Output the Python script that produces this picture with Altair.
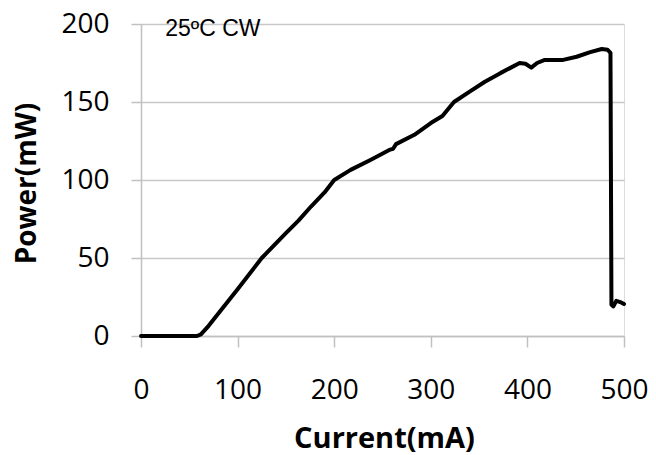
import altair as alt
import pandas as pd

current_mA = [0, 58, 62, 70, 100, 125, 150, 163, 176, 190, 200, 217, 238, 258, 261, 264,
              283, 300, 312, 324, 341, 356, 372, 392, 398, 404, 410, 418, 437, 451, 465,
              477, 483, 486, 487, 489, 492, 497, 500]
power_mW = [0, 0, 1, 6.5, 30, 50, 66, 74, 83, 92, 100, 106.5, 113, 119.5, 120, 123,
            129, 136.5, 141, 150, 157, 163, 168.5, 175, 174.5, 172, 175, 177, 177, 179, 182,
            184, 183.5, 181.5, 20, 19, 22.5, 21.5, 20.5]

x_ticks = [0, 100, 200, 300, 400, 500]
y_ticks = [0, 50, 100, 150, 200]

note_text = ["25\u00baC CW"]
note_x = [25]
note_y = [192]

df = pd.DataFrame({"current": current_mA, "power": power_mW, "i": list(range(len(current_mA)))})
notes = pd.DataFrame({"x": note_x, "y": note_y, "t": note_text})

x_scale = alt.Scale(domain=[0, 500], nice=False, zero=False)
y_scale = alt.Scale(domain=[0, 200], nice=False)

line = alt.Chart(df).mark_line(color="black", strokeWidth=4, strokeJoin="round", strokeCap="round").encode(
    x=alt.X("current:Q", scale=x_scale, axis=alt.Axis(
        values=x_ticks, title="Current(mA)", grid=False,
        domainColor="#c0c0c0", domainWidth=1.5, tickColor="#c0c0c0", tickWidth=1.5, tickSize=11,
        labelFont="Open Sans", labelFontSize=28, labelColor="black", labelBaseline="alphabetic",
        labelPadding=51, labelFlush=False, labelOverlap=False, labelBound=False,
        titleFont="Open Sans", titleFontSize=29, titleFontWeight="bold", titleColor="black",
        titleBaseline="alphabetic", titleX=243, titleY=111, titleAlign="center")),
    y=alt.Y("power:Q", scale=y_scale, axis=alt.Axis(
        values=y_ticks, title="Power(mW)", grid=True, gridColor="#c8c8c8", gridWidth=1.5,
        domainColor="#c0c0c0", domainWidth=1.5, tickColor="#c0c0c0", tickWidth=1.5, tickSize=10,
        labelFont="Open Sans", labelFontSize=28, labelColor="black", labelPadding=22,
        labelBaseline="middle", labelFlush=False, labelOverlap=False, labelBound=False,
        titleFont="Open Sans", titleFontSize=28, titleFontWeight="bold", titleColor="black",
        titleAngle=270, titleBaseline="alphabetic", titleAlign="center", titleX=-106, titleY=159)),
    order="i:Q",
)

note = alt.Chart(notes).mark_text(font="Liberation Sans", fontSize=23, color="black",
                                  align="left", baseline="alphabetic").encode(
    x=alt.X("x:Q", scale=x_scale), y=alt.Y("y:Q", scale=y_scale), text="t:N")

chart = alt.layer(line, note).properties(
    width=483, height=312,
    autosize=alt.AutoSizeParams(type="none"),
    padding={"left": 133, "top": 16, "right": 24, "bottom": 118},
).configure_view(stroke=None).configure(background="white")

chart.save("out.html", embed_options={"renderer": "svg", "actions": False})
